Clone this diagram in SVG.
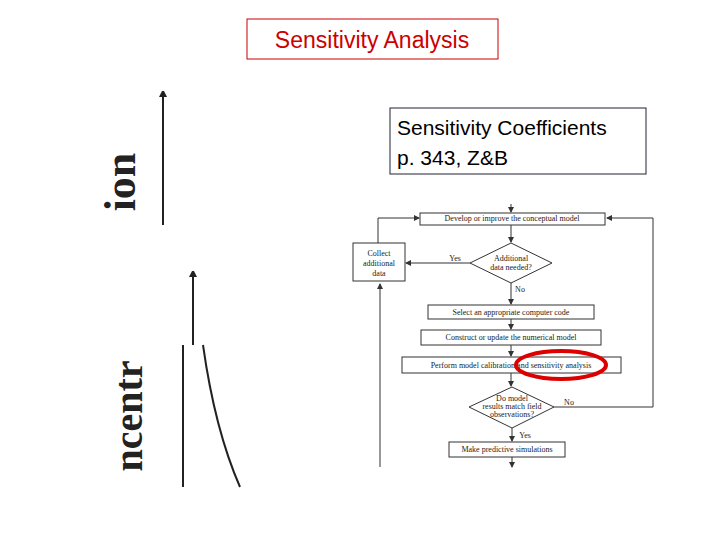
<svg xmlns="http://www.w3.org/2000/svg" width="720" height="540" viewBox="0 0 720 540">
<style>
.b{fill:#fff;stroke:#333;stroke-width:1}
.l{fill:none;stroke:#333;stroke-width:1}
.t{font-family:"Liberation Serif",serif;font-size:8px;fill:#222;text-anchor:middle}
.h{font-family:"Liberation Sans",sans-serif;fill:#000}
.k{fill:none;stroke:#222;stroke-width:2}
</style>
<defs><marker id="a" markerWidth="6" markerHeight="6" refX="5" refY="3" orient="auto"><path d="M0,0L6,3L0,6z" fill="#333"/></marker>
<marker id="A" markerWidth="6" markerHeight="8" refX="5" refY="4" orient="auto" markerUnits="userSpaceOnUse"><path d="M0,0L8,4L0,8z" fill="#222"/></marker></defs>
<rect width="720" height="540" fill="#fff"/>
<g id="title"><rect x="247" y="19" width="251" height="40" fill="#fff" stroke="#c00"/><text class="h" x="372" y="48" font-size="23" text-anchor="middle" fill="#c00" style="fill:#c00">Sensitivity Analysis</text></g>
<g id="note"><rect x="390" y="108" width="256" height="66" fill="#fff" stroke="#223"/><text class="h" x="397" y="135" font-size="21">Sensitivity Coefficients</text><text class="h" x="397" y="165" font-size="21">p. 343, Z&amp;B</text></g>
<g id="leftfig">
<line class="k" x1="163" y1="225" x2="163" y2="92" marker-end="url(#A)"/>
<line class="k" x1="193" y1="345" x2="193" y2="272" marker-end="url(#A)"/>
<line class="k" x1="183" y1="345" x2="183" y2="487"/>
<path class="k" d="M203,345 Q215,430 240,487"/>
<text x="135" y="182" transform="rotate(-90 135 182)" font-family="Liberation Serif,serif" font-size="44" font-weight="bold" text-anchor="middle" fill="#222">ion</text>
<text x="142" y="416" transform="rotate(-90 142 416)" font-family="Liberation Serif,serif" font-size="40" font-weight="bold" text-anchor="middle" fill="#222">ncentr</text>
</g>
<g id="connectors">
<line class="l" x1="511" y1="204" x2="511" y2="212" marker-end="url(#a)"/>
<line class="l" x1="511" y1="225" x2="511" y2="242" marker-end="url(#a)"/>
<line class="l" x1="470" y1="263" x2="406" y2="263" marker-end="url(#a)"/>
<line class="l" x1="511" y1="283" x2="511" y2="304" marker-end="url(#a)"/>
<line class="l" x1="511" y1="319" x2="511" y2="329" marker-end="url(#a)"/>
<line class="l" x1="511" y1="345" x2="511" y2="356" marker-end="url(#a)"/>
<line class="l" x1="511" y1="373" x2="511" y2="386" marker-end="url(#a)"/>
<line class="l" x1="512" y1="428" x2="512" y2="441" marker-end="url(#a)"/>
<line class="l" x1="512" y1="457" x2="512" y2="467" marker-end="url(#a)"/>
<polyline class="l" points="554,407 653,407 653,218 607,218" marker-end="url(#a)"/>
<polyline class="l" points="378,243 378,218 419,218" marker-end="url(#a)"/>
<line class="l" x1="380" y1="467" x2="380" y2="284" marker-end="url(#a)"/>
<text class="t" x="455" y="261">Yes</text><text class="t" x="520" y="292">No</text>
<text class="t" x="569" y="405">No</text><text class="t" x="525" y="438">Yes</text>
</g>
<g id="n1"><rect class="b" x="420" y="213" width="185" height="12"/><text class="t" x="512" y="221">Develop or improve the conceptual model</text></g>
<g id="n2"><rect class="b" x="353" y="243" width="52" height="38"/><text class="t" x="379" y="256">Collect</text><text class="t" x="379" y="266">additional</text><text class="t" x="379" y="276">data</text></g>
<g id="n3"><polygon class="b" points="511,243 552,263 511,283 470,263"/><text class="t" x="511" y="261" font-size="7">Additional</text><text class="t" x="511" y="270" font-size="7">data needed?</text></g>
<g id="n4"><rect class="b" x="428" y="305" width="166" height="14"/><text class="t" x="511" y="315">Select an appropriate computer code</text></g>
<g id="n5"><rect class="b" x="421" y="330" width="180" height="15"/><text class="t" x="511" y="340">Construct or update the numerical model</text></g>
<g id="n6"><rect class="b" x="402" y="357" width="219" height="16"/><text class="t" x="511" y="368">Perform model calibration and sensitivity analysis</text></g>
<g id="n7"><polygon class="b" points="512,387 554,407 512,428 469,407"/><text class="t" x="512" y="401" font-size="7">Do model</text><text class="t" x="512" y="409" font-size="7">results match field</text><text class="t" x="512" y="417" font-size="7">observations?</text></g>
<g id="n8"><rect class="b" x="449" y="442" width="116" height="15"/><text class="t" x="507" y="452">Make predictive simulations</text></g>
<ellipse cx="561" cy="365" rx="45" ry="14" fill="none" stroke="#d00" stroke-width="4"/>
</svg>
